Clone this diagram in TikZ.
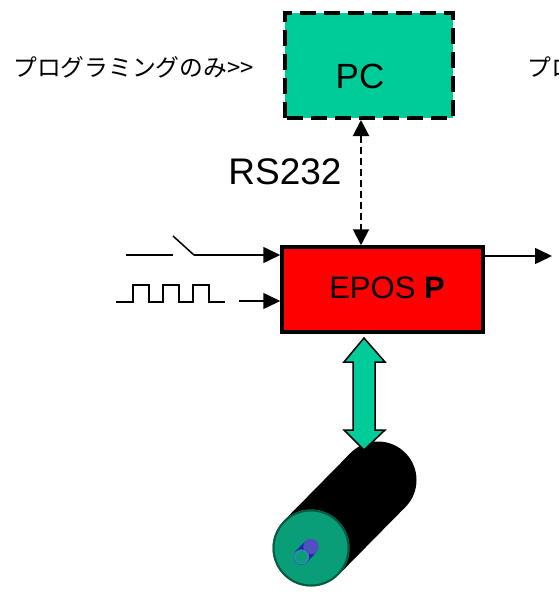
\documentclass[tikz,border=0pt]{standalone}
\usepackage{fontspec}
\setmainfont{Liberation Sans}
\newfontfamily\jpfont{Noto Sans CJK JP}
\usetikzlibrary{arrows.meta}

\definecolor{pcgreen}{RGB}{0,204,153}
\definecolor{eposred}{RGB}{255,0,0}
\definecolor{faceGreen}{RGB}{10,158,120}
\definecolor{faceEdge}{RGB}{10,90,66}
\definecolor{shaftBlue}{RGB}{36,36,176}
\definecolor{shaftRing}{RGB}{50,140,170}

\tikzset{
  sig/.style={line width=1.5pt, -{Triangle[length=17pt,width=16pt]}},
  wire/.style={line width=1.5pt},
  pcbox/.style={draw, line width=4pt, dash pattern=on 16pt off 8pt, dash phase=-2pt,
    fill=pcgreen, minimum width=168pt, minimum height=105pt, inner sep=0pt},
  eposbox/.style={draw, line width=3.5pt, fill=eposred,
    minimum width=201pt, minimum height=85pt, inner sep=0pt},
  jplabel/.style={font=\jpfont\fontsize{23.8}{28}\selectfont, inner sep=0pt},
}

\begin{document}
\begin{tikzpicture}[x=1pt,y=-1pt]
\useasboundingbox (0,0) rectangle (558,592);
\clip (0,0) rectangle (558,592);

% boxes
\node[pcbox] (pc) at (369,65.5) {};
\node[font=\fontsize{35}{40}\selectfont, inner sep=0pt] (pclabel) at (360,76) {PC};
\node[eposbox] (epos) at (382.5,289.5) {};
\node[font=\fontsize{31}{36}\selectfont, inner sep=0pt] (eposlabel) at (387,288) {EPOS \textbf{P}};

% side captions
\node[jplabel, anchor=west] (leftcap) at (13,67) {プログラミングのみ>>};
\node[jplabel, anchor=west] (rightcap) at (527,67) {プロ};

% serial link
\coordinate (rsx) at (361,0);
\draw[line width=2pt, dash pattern=on 7pt off 4pt,
  {Triangle[length=16pt,width=16pt]}-{Triangle[length=16pt,width=16pt]}]
  (pc.south -| rsx) -- (epos.north -| rsx);
\node[font=\fontsize{37}{42}\selectfont, inner sep=0pt] (rs) at (285,172) {RS232};

% switch input
\coordinate (swa) at (126,255);
\coordinate (swb) at (173,255);
\coordinate (swc) at (173,236);
\coordinate (swd) at (194,255);
\draw[wire] (swa) -- (swb);
\draw[wire] (swc) -- (swd);
\draw[sig] (swd) -- (epos.west |- swd);

% pulse input
\draw[wire] (116,302) -- (133,302) -- (133,285) -- (149,285) -- (149,302)
  -- (163,302) -- (163,285) -- (179,285) -- (179,302) -- (193,302)
  -- (193,285) -- (209,285) -- (209,302) -- (225,302);
\coordinate (pulsein) at (239,301);
\draw[sig] (pulsein) -- (epos.west |- pulsein);

% output
\coordinate (outend) at (552,256);
\draw[sig] (epos.east |- outend) -- (outend);

% motor body
\fill (405.4,507) -- (338.4,575) -- (283.6,521) -- (350.6,453) -- cycle;
\fill (378,480) circle[radius=38.5];
\fill[faceGreen] (311,548) circle[radius=38.5];
\draw[faceEdge, line width=2pt] (311,548) circle[radius=37.5];

% motor shaft
\fill[shaftBlue] (306.7,562.7) -- (316.7,551.7) -- (305.3,541.3) -- (295.3,551.3) -- cycle;
\fill[shaftBlue!80!white] (311,546.5) circle[radius=7.8];
\fill[shaftBlue] (301.5,557) circle[radius=7.8];
\filldraw[fill=faceGreen, draw=shaftRing, line width=1.6pt] (301.5,557) circle[radius=6.8];

% mechanical coupling
\draw[line width=1.5pt, fill=pcgreen, line join=miter]
  (364,338) -- (385,362) -- (375,362) -- (375,430) -- (385,430) -- (364,450)
  -- (344,430) -- (353,430) -- (353,362) -- (344,362) -- cycle;
\end{tikzpicture}
\end{document}
